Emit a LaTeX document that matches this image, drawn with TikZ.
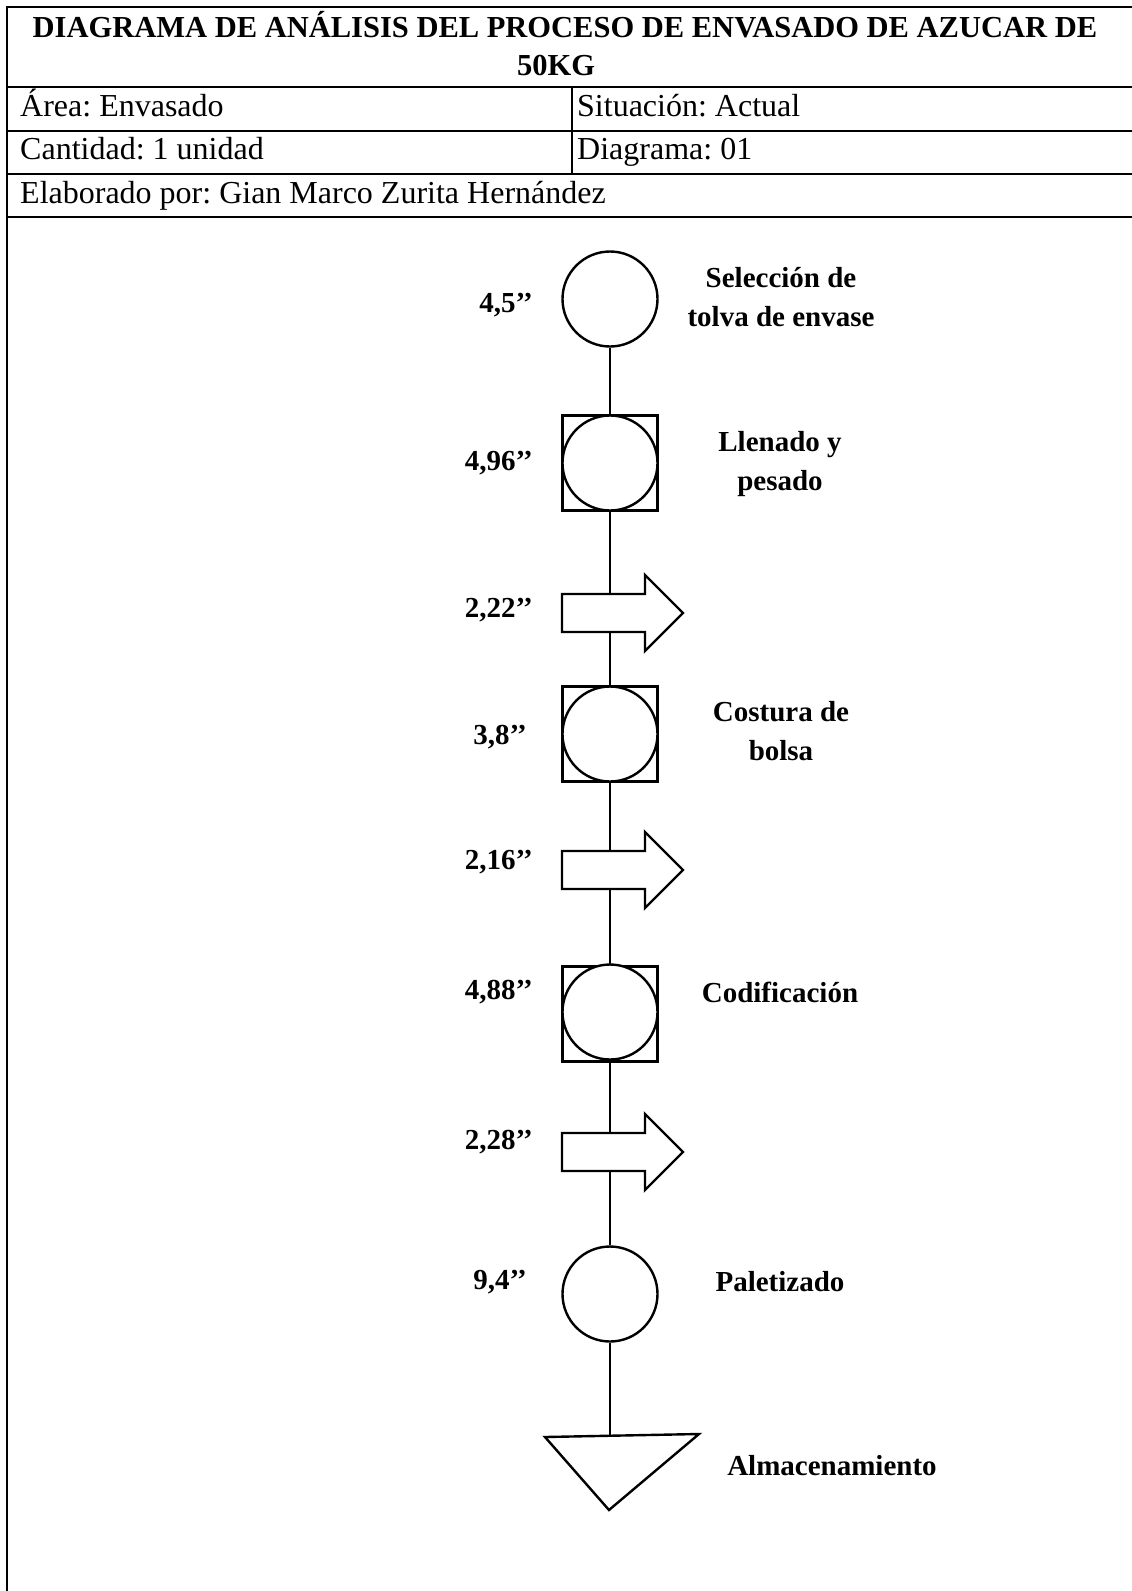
\documentclass[tikz,border=0pt]{standalone}
\usepackage{fontspec}
\setmainfont{Liberation Serif}
\usetikzlibrary{backgrounds}
\frenchspacing

\newcommand\titletxt{\fontsize{30.5}{39}\selectfont\bfseries}
\newcommand\celltxt{\fontsize{32}{38}\selectfont}
\newcommand\flowtxt{\fontsize{29}{39}\selectfont\bfseries}

\begin{document}
\begin{tikzpicture}[x=1pt,y=-1pt,
  tline/.style={line width=1.8pt},
  conn/.style={line width=1.3pt},
  sym/.style={draw,line width=2.4pt,fill=white},
  op/.style={sym,circle,minimum size=95pt,inner sep=0pt},
  opbox/.style={sym,rectangle,minimum size=95pt,inner sep=0pt},
  cell/.style={anchor=base west,inner sep=0pt},
  tiempo/.style={anchor=east,inner sep=0pt,font=\flowtxt},
  paso/.style={align=center,inner sep=0pt,font=\flowtxt}]
\useasboundingbox (0,0) rectangle (1132,1591);

% cabecera
\draw[tline] (7,1591) -- (7,7) -- (1132,7);
\foreach \y in {87,131,174,217}
  \draw[tline] (7,\y) -- (1132,\y);
\draw[tline] (572,87) -- (572,174);
\node[anchor=base,inner sep=0pt] (titulo) at (565,37) {\titletxt DIAGRAMA DE ANÁLISIS DEL PROCESO DE ENVASADO DE AZUCAR DE};
\node[anchor=base,inner sep=0pt] (titulo2) at (556,75) {\titletxt 50KG};
\node[cell] (area) at (20,116) {\celltxt Área: Envasado};
\node[cell] (sit) at (577,116) {\celltxt Situación: Actual};
\node[cell] (cant) at (20,159) {\celltxt Cantidad: 1 unidad};
\node[cell] (diag) at (577,159) {\celltxt Diagrama: 01};
\node[cell] (elab) at (20,203) {\celltxt Elaborado por: Gian Marco Zurita Hernández};

% simbolos
\node[op] (sel) at (610,299) {};
\node[opbox] (lle) at (610,463) {};
\node[op] (llec) at (610,463) {};
\coordinate (a1) at (610,613);
\node[opbox] (cos) at (610,734) {};
\node[op] (cosc) at (610,734) {};
\coordinate (a2) at (610,870);
\node[opbox] (cod) at (610,1014) {};
\node[op] (codc) at (610,1012) {};
\coordinate (a3) at (610,1152);
\node[op] (pal) at (610,1294) {};
\coordinate (alm) at (610,1436);

\foreach \a in {a1,a2,a3}
  \draw[sym] ([shift={(-48,-19)}]\a) -- ++(83,0) -- ++(0,-19) -- ++(38,38)
    -- ++(-38,38) -- ++(0,-19) -- ++(-83,0) -- cycle;
\draw[sym] (545,1437) -- (699,1434) -- (609,1510) -- cycle;

\begin{scope}[on background layer]
\draw[conn] (sel) -- (lle) -- (a1) -- (cos) -- (a2) -- (cod) -- (a3) -- (pal) -- (alm);
\end{scope}

% tiempos
\node[tiempo] (t1) at (533,305) {4,5’’};
\node[tiempo] (t2) at (533,463) {4,96’’};
\node[tiempo] (t3) at (533,610) {2,22’’};
\node[tiempo] (t4) at (527,737) {3,8’’};
\node[tiempo] (t5) at (533,862) {2,16’’};
\node[tiempo] (t6) at (533,992) {4,88’’};
\node[tiempo] (t7) at (533,1142) {2,28’’};
\node[tiempo] (t8) at (527,1282) {9,4’’};

% actividades
\node[paso] (p1) at (781,297) {Selección de\\tolva de envase};
\node[paso] (p2) at (780,464) {Llenado y\\pesado};
\node[paso] (p3) at (781,731) {Costura de\\bolsa};
\node[paso] (p4) at (780,992) {Codificación};
\node[paso] (p5) at (780,1282) {Paletizado};
\node[paso] (p6) at (832,1466) {Almacenamiento};
\end{tikzpicture}
\end{document}
